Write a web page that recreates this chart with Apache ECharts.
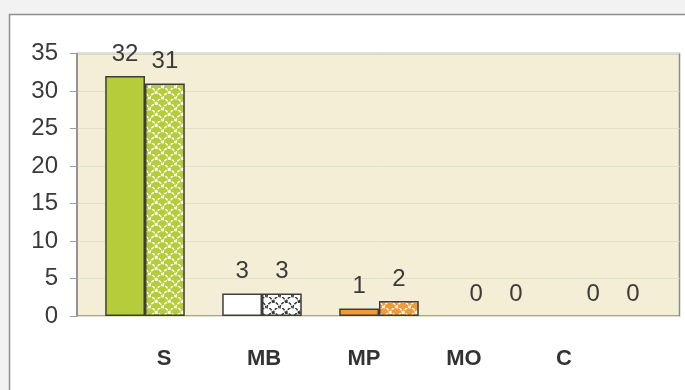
<!DOCTYPE html>
<html>
<head>
<meta charset="utf-8">
<script src="https://cdn.jsdelivr.net/npm/echarts@6/dist/echarts.min.js"></script>
<style>
  html, body { margin: 0; padding: 0; background: #f2f2f2; }
  #chart { width: 685px; height: 390px; }
</style>
</head>
<body>
<div id="chart"></div>
<script>
// Categories and the two series of counts per category
const categories = ['S', 'MB', 'MP', 'MO', 'C'];
const solidValues = [32, 3, 1, 0, 0];
const patternValues = [31, 3, 2, 0, 0];
const yTicks = [0, 5, 10, 15, 20, 25, 30, 35];

// Fill colours per category (solid bar, patterned bar base, pattern stroke)
const solidColors = ['#b6cc3a', '#ffffff', '#f29a36', '#b6cc3a', '#b6cc3a'];
const patternBase = ['#b6cc3a', '#ffffff', '#f29a36', '#b6cc3a', '#b6cc3a'];
const patternInk = ['#ffffff', '#333333', '#ffffff', '#ffffff', '#ffffff'];

// Scalloped tile used as the fill for the second bar of each pair
function scaleTile(base, ink) {
  const w = 13, h = 11;
  const c = document.createElement('canvas');
  c.width = w; c.height = h;
  const g = c.getContext('2d');
  g.fillStyle = base;
  g.fillRect(0, 0, w, h);
  g.strokeStyle = ink;
  g.lineWidth = 1.4;
  g.setLineDash([3, 1]);
  const arcs = [[w / 2, h / 2], [0, h], [w, h], [0, 0], [w, 0]];
  arcs.forEach(([cx, cy]) => {
    g.beginPath();
    g.arc(cx, cy, w / 2 - 0.5, Math.PI, 2 * Math.PI);
    g.stroke();
  });
  return c;
}

const font = 'Liberation Sans, Arial, sans-serif';
const ymax = yTicks[yTicks.length - 1];

const labelStyle = {
  show: true,
  position: 'top',
  distance: 10,
  fontSize: 24,
  fontFamily: font,
  color: '#3a3a3a'
};

const chart = echarts.init(document.getElementById('chart'), null, { renderer: 'canvas' });

chart.setOption({
  backgroundColor: '#f2f2f2',
  animation: false,
  graphic: [{
    type: 'rect',
    z: -10,
    shape: { x: 9.5, y: 14.5, width: 700, height: 400 },
    style: { fill: '#ffffff', stroke: '#8e8e8e', lineWidth: 1.5 }
  }],
  grid: [
    // plotting frame with the value axis
    { left: 77, right: 5.5, top: 53.5, bottom: 74, show: true,
      backgroundColor: '#f5eed7', borderColor: '#8c8c8c', borderWidth: 1.5 },
    // bars
    { left: 86.5, width: 585, top: 53.5, bottom: 74 },
    // category names
    { left: 114, width: 500, top: 53.5, bottom: 74 }
  ],
  xAxis: [
    { gridIndex: 0, type: 'category', data: categories, show: false },
    { gridIndex: 1, type: 'category', data: categories, show: false },
    { gridIndex: 2, type: 'category', data: categories,
      axisLine: { show: false }, axisTick: { show: false },
      axisLabel: { margin: 32, fontSize: 22, fontWeight: 'bold', fontFamily: font, color: '#333333' } }
  ],
  yAxis: [
    { gridIndex: 0, type: 'value', min: 0, max: ymax, interval: 5,
      axisLine: { show: true, lineStyle: { color: '#8c8c8c', width: 1.5 } },
      axisTick: { show: true, length: 7, lineStyle: { color: '#9a9a9a' } },
      axisLabel: { margin: 19, fontSize: 24, fontFamily: font, color: '#3a3a3a' },
      splitLine: { show: true, lineStyle: { color: '#dfe2c8', width: 1 } } },
    { gridIndex: 1, type: 'value', min: 0, max: ymax, show: false, splitLine: { show: false } },
    { gridIndex: 2, type: 'value', min: 0, max: ymax, show: false, splitLine: { show: false } }
  ],
  series: [
    {
      type: 'bar', xAxisIndex: 1, yAxisIndex: 1,
      barGap: '0%', barCategoryGap: '32%',
      data: solidValues.map((v, i) => ({
        value: v,
        itemStyle: { color: solidColors[i], borderColor: '#3d3d3d', borderWidth: v ? 1.5 : 0 }
      })),
      label: labelStyle
    },
    {
      type: 'bar', xAxisIndex: 1, yAxisIndex: 1,
      barGap: '0%', barCategoryGap: '32%',
      data: patternValues.map((v, i) => ({
        value: v,
        itemStyle: {
          color: { image: scaleTile(patternBase[i], patternInk[i]), repeat: 'repeat' },
          borderColor: '#3d3d3d', borderWidth: v ? 1.5 : 0
        }
      })),
      label: labelStyle
    }
  ]
});
</script>
</body>
</html>
